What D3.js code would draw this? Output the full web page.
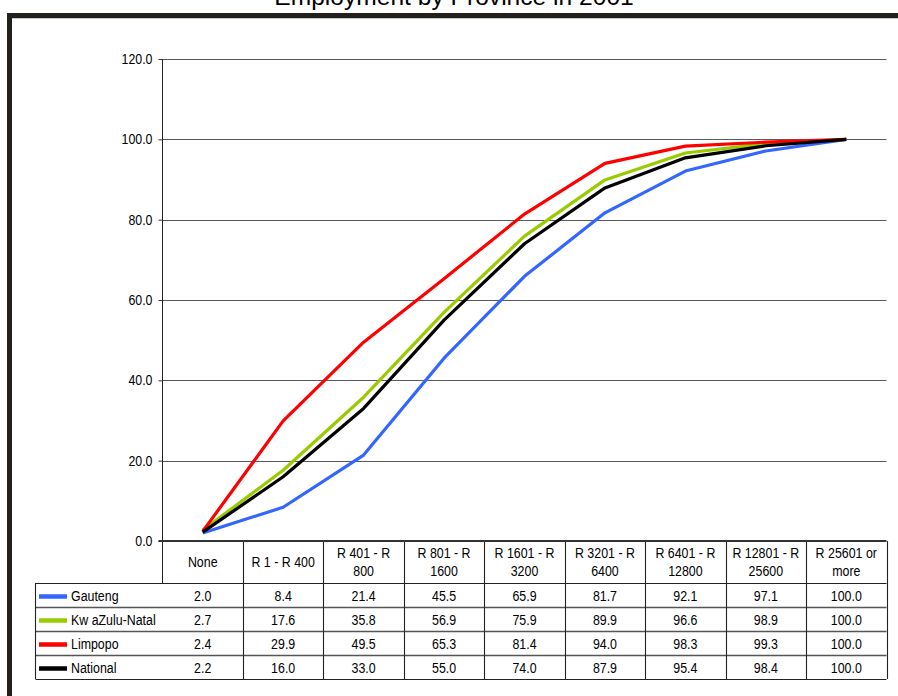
<!DOCTYPE html>
<html>
<head>
<meta charset="utf-8">
<script src="https://cdn.jsdelivr.net/npm/d3@7"></script>
<style>
  html, body { margin: 0; padding: 0; background: #fff; }
  svg { display: block; font-family: Arial, "Liberation Sans", sans-serif; }
</style>
</head>
<body>
<svg id="chart" width="898" height="696"></svg>
<script>
// Income bands (monthly) and cumulative share of employed, per province
const categories = ["None", "R 1 - R 400", "R 401 - R 800", "R 801 - R 1600", "R 1601 - R 3200",
  "R 3201 - R 6400", "R 6401 - R 12800", "R 12801 - R 25600", "R 25601 or more"];
const seriesNames = ["Gauteng", "Kw aZulu-Natal", "Limpopo", "National"];
const gauteng = [2.0, 8.4, 21.4, 45.5, 65.9, 81.7, 92.1, 97.1, 100.0];
const kwazuluNatal = [2.7, 17.6, 35.8, 56.9, 75.9, 89.9, 96.6, 98.9, 100.0];
const limpopo = [2.4, 29.9, 49.5, 65.3, 81.4, 94.0, 98.3, 99.3, 100.0];
const national = [2.2, 16.0, 33.0, 55.0, 74.0, 87.9, 95.4, 98.4, 100.0];
const seriesColors = ["#3366ff", "#99cc00", "#ff0000", "#000000"];
const yTicks = [0, 20, 40, 60, 80, 100, 120];
const chartTitle = "Employment by Province in 2001";

const seriesValues = [gauteng, kwazuluNatal, limpopo, national];
const series = seriesNames.map((name, i) => ({ name, color: seriesColors[i], values: seriesValues[i] }));

const svg = d3.select("#chart");

// Layout
const plotLeft = 162.5, plotRight = 886.5, plotTop = 59, plotBottom = 541;
const headerBottom = 583, rowH = 24, legendLeft = 35.5;
const fontSize = 12.4;
const stretch = 1.12; // glyphs are drawn slightly taller than wide

// Outer frame
svg.append("rect")
  .attr("x", 9.5).attr("y", 15.5).attr("width", 1000).attr("height", 1000)
  .attr("fill", "none").attr("stroke", "#231f1a").attr("stroke-width", 5);
svg.append("line")
  .attr("x1", 12).attr("x2", 898).attr("y1", 18.5).attr("y2", 18.5)
  .attr("stroke", "#c8c8c8").attr("stroke-width", 1);

// Title
svg.append("text")
  .attr("x", 454).attr("y", 5)
  .attr("text-anchor", "middle")
  .attr("font-size", 24.6)
  .attr("fill", "#000")
  .text(chartTitle);

const x = d3.scaleBand().domain(categories).range([plotLeft, plotRight]);
const cx = c => x(c) + x.bandwidth() / 2;
const y = d3.scaleLinear().domain([0, 120]).range([plotBottom, plotTop]);

// Horizontal gridlines
svg.append("g")
  .selectAll("line")
  .data(yTicks.filter(t => t > 0))
  .join("line")
  .attr("x1", plotLeft).attr("x2", plotRight)
  .attr("y1", d => Math.round(y(d)) + 0.5).attr("y2", d => Math.round(y(d)) + 0.5)
  .attr("stroke", "#5a5a5a").attr("stroke-width", 1.2);

// Y axis
const yAxis = d3.axisLeft(y).tickValues(yTicks).tickFormat(d3.format(".1f")).tickSize(4).tickPadding(6);
const yg = svg.append("g").attr("transform", `translate(${plotLeft},0)`).call(yAxis);
yg.select(".domain").remove();
yg.selectAll(".tick line").attr("stroke", "#333");
yg.selectAll(".tick text").attr("font-size", fontSize).attr("fill", "#000")
  .attr("font-family", "Arial, 'Liberation Sans', sans-serif")
  .attr("transform", `scale(1,${stretch})`);
svg.append("line")
  .attr("x1", plotLeft).attr("x2", plotLeft)
  .attr("y1", plotTop).attr("y2", headerBottom)
  .attr("stroke", "#222").attr("stroke-width", 1);

// Series lines
const line = d3.line()
  .x((d, i) => cx(categories[i]))
  .y(d => y(d));
svg.append("g")
  .selectAll("path")
  .data(series)
  .join("path")
  .attr("d", d => line(d.values))
  .attr("fill", "none")
  .attr("stroke", d => d.color)
  .attr("stroke-width", 3.2)
  .attr("stroke-linejoin", "round");

// Data table
const tg = svg.append("g");
const tableBottom = headerBottom + rowH * series.length;

// Text placed at (tx, ty) with the vertical stretch applied about its baseline
function label(g, tx, ty, str, anchor) {
  return g.append("text")
    .attr("transform", `translate(${tx},${ty}) scale(1,${stretch})`)
    .attr("text-anchor", anchor || "middle")
    .attr("font-size", fontSize)
    .attr("fill", "#000")
    .text(str);
}

// Header cells with wrapped category labels
categories.forEach(c => {
  const words = c.split(" ");
  const lines = [];
  let current = "";
  const probe = tg.append("text").attr("font-size", fontSize);
  words.forEach(w => {
    const trial = current ? current + " " + w : w;
    probe.text(trial);
    if (probe.node().getComputedTextLength() > 70 && current) {
      lines.push(current);
      current = w;
    } else {
      current = trial;
    }
  });
  lines.push(current);
  probe.remove();
  const mid = (plotBottom + headerBottom) / 2;
  const lh = 18.5;
  lines.forEach((ln, k) => {
    label(tg, cx(c), mid + 5 + (k - (lines.length - 1) / 2) * lh, ln);
  });
});

// Value cells and legend column
series.forEach((s, r) => {
  const top = headerBottom + r * rowH;
  const mid = top + rowH / 2;
  s.values.forEach((v, i) => {
    label(tg, cx(categories[i]), mid + 6, d3.format(".1f")(v));
  });
  tg.append("line")
    .attr("x1", 39).attr("x2", 67)
    .attr("y1", mid + 1.5).attr("y2", mid + 1.5)
    .attr("stroke", s.color).attr("stroke-width", 4.5);
  label(tg, 71, mid + 6, s.name, "start");
});

// Table grid
const rowLines = d3.range(series.length + 1).map(r => headerBottom + r * rowH);
rowLines.forEach((yy, r) => {
  tg.append("line")
    .attr("x1", legendLeft).attr("x2", plotRight)
    .attr("y1", Math.round(yy) + 0.5).attr("y2", Math.round(yy) + 0.5)
    .attr("stroke", (r === 0 || r === series.length) ? "#222" : "#555")
    .attr("stroke-width", (r === 0 || r === series.length) ? 1.2 : 1.4);
});
// Vertical cell borders
const colEdges = categories.map(c => x(c)).concat([plotRight]);
colEdges.slice(1).forEach(xx => {
  tg.append("line")
    .attr("x1", Math.round(xx) + 0.5).attr("x2", Math.round(xx) + 0.5)
    .attr("y1", plotBottom).attr("y2", tableBottom)
    .attr("stroke", "#222").attr("stroke-width", 1.1);
});
tg.append("line")
  .attr("x1", legendLeft).attr("x2", legendLeft)
  .attr("y1", headerBottom).attr("y2", tableBottom)
  .attr("stroke", "#222").attr("stroke-width", 1.1);

// X axis baseline
svg.append("line")
  .attr("x1", plotLeft - 4).attr("x2", plotRight)
  .attr("y1", plotBottom).attr("y2", plotBottom)
  .attr("stroke", "#333").attr("stroke-width", 2);
</script>
</body>
</html>
